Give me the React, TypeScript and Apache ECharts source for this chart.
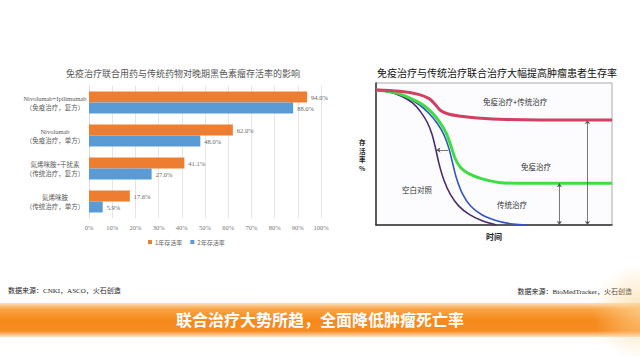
import React, { useEffect, useRef } from "react";
import * as echarts from "echarts";

// ---- Left chart data ----
const categories = [
  "Nivolumab+Ipilimumab\n（免疫治疗，复方）",
  "Nivolumab\n（免疫治疗，单方）",
  "氮烯咪胺+干扰素\n（传统治疗，复方）",
  "氮烯咪胺\n（传统治疗，单方）",
];
const oneYear = [94.0, 62.0, 41.1, 17.6];
const twoYear = [88.0, 48.0, 27.0, 5.9];
const seriesNames = ["1年存活率", "2年存活率"];

// ---- Right chart data (illustrative survival curves, x: time %, y: survival %) ----
const redCurve: number[][] = [
  [0, 95.1], [10, 94.2], [18, 92.0], [22.5, 89.0], [25.0, 85.0], [27.5, 80.5],
  [31.0, 78.0], [36.0, 76.6], [43.0, 75.4], [55.0, 74.3], [70, 73.9], [100, 73.9],
];
const greenCurve: number[][] = [
  [0, 95.1], [8, 93.2], [14.4, 89.4], [19.5, 85.0], [23.5, 79.5], [27.0, 72.5],
  [29.8, 64.5], [31.8, 55.5], [33.5, 47.0], [35.8, 40.5], [39.5, 36.0],
  [45.0, 32.5], [52.0, 30.0], [60.0, 29.4], [100, 29.4],
];
const blueCurve: number[][] = [
  [0, 95.1], [8, 93.0], [13.5, 89.5], [18.5, 84.5], [22.5, 78.5], [26.0, 71.5],
  [28.8, 63.5], [30.8, 54.5], [32.4, 44.0], [34.0, 33.5], [36.5, 22.5],
  [40.0, 13.5], [45.0, 7.0], [51.5, 2.8], [58.0, 0.7], [63.9, 0],
];
const purpleCurve: number[][] = [
  [0, 95.1], [6, 93.5], [11, 90.5], [15.5, 86.0], [19.0, 79.5], [21.8, 72.0],
  [23.8, 63.5], [25.3, 53.5], [26.8, 42.5], [28.8, 31.5], [31.5, 21.5],
  [35.0, 13.5], [39.5, 7.5], [45.0, 3.0], [51.1, 0],
];
const arrowRedX = 89.6;
const arrowGreenX = 77.7;
const arrowGapY = 52.8;

const F = "'Noto Sans CJK SC', 'Noto Sans', sans-serif";
const FS = "'Liberation Serif', 'Noto Sans CJK SC', serif";

export default function App() {
  const ref = useRef<HTMLDivElement>(null);
  useEffect(() => {
    if (!ref.current) return;
    const chart = echarts.init(ref.current, undefined, { renderer: "svg" });
    const arrowLine = {
      silent: true,
      symbol: ["arrow", "arrow"],
      symbolSize: 4,
      label: { show: false },
      lineStyle: { color: "#555", width: 0.8, type: "solid" as const },
      emphasis: { disabled: true },
    };
    const curve = (data: number[][], color: string, width: number, z: number, extra: any = {}) => ({
      type: "line",
      xAxisIndex: 1,
      yAxisIndex: 1,
      data,
      smooth: 0.35,
      symbol: "none",
      lineStyle: { color, width },
      z,
      ...extra,
    });
    chart.setOption({
      animation: false,
      backgroundColor: "#ffffff",
      title: [
        {
          text: "免疫治疗联合用药与传统药物对晚期黑色素瘤存活率的影响",
          left: 178,
          top: 64,
          textAlign: "center",
          textStyle: { fontFamily: F, fontSize: 9, fontWeight: "normal", color: "#555" },
        },
        {
          text: "免疫治疗与传统治疗联合治疗大幅提高肿瘤患者生存率",
          left: 492,
          top: 62,
          textAlign: "center",
          textStyle: { fontFamily: F, fontSize: 10, fontWeight: "normal", color: "#111" },
        },
      ],
      legend: {
        left: 143,
        top: 234,
        itemWidth: 4,
        itemHeight: 4,
        itemGap: 8,
        icon: "rect",
        data: seriesNames,
        textStyle: { fontFamily: F, fontSize: 6, color: "#666", padding: [0, 0, 0, -2] },
      },
      grid: [
        { left: 89, top: 86, width: 232, height: 132 },
        {
          left: 376, top: 83, width: 236, height: 142,
          show: true, borderColor: "#aaa", borderWidth: 1, backgroundColor: "#fcfcfe",
        },
      ],
      xAxis: [
        {
          type: "value",
          gridIndex: 0,
          min: 0,
          max: 100,
          interval: 10,
          axisLine: { show: false },
          axisTick: { show: false },
          axisLabel: { formatter: "{value}%", fontFamily: FS, fontSize: 6.5, color: "#777", margin: 6 },
          splitLine: { lineStyle: { color: "#e0e0e0", width: 0.8 } },
        },
        {
          type: "value",
          gridIndex: 1,
          min: 0,
          max: 100,
          axisLine: { show: true, lineStyle: { color: "#333", width: 1.5 } },
          axisTick: { show: false },
          axisLabel: { show: false },
          splitLine: { show: false },
          name: "时间",
          nameLocation: "middle",
          nameGap: 7,
          nameTextStyle: { fontFamily: F, fontSize: 8, fontWeight: "bold", color: "#222" },
        },
      ],
      yAxis: [
        {
          type: "category",
          gridIndex: 0,
          inverse: true,
          data: categories,
          axisLine: { show: true, lineStyle: { color: "#d9d9d9" } },
          axisTick: { show: false },
          axisLabel: {
            fontFamily: FS,
            fontSize: 6.5,
            lineHeight: 9,
            color: "#595959",
            margin: 34,
            align: "center",
          },
        },
        {
          type: "value",
          gridIndex: 1,
          min: 0,
          max: 100,
          axisLine: { show: true, lineStyle: { color: "#333", width: 1.5 } },
          axisTick: { show: false },
          axisLabel: { show: false },
          splitLine: { show: false },
        },
      ],
      series: [
        {
          name: seriesNames[0],
          type: "bar",
          xAxisIndex: 0,
          yAxisIndex: 0,
          data: oneYear,
          barWidth: 11,
          barGap: "0%",
          itemStyle: { color: "#ED7D31" },
          label: {
            show: true,
            position: "right",
            distance: 4,
            formatter: (p: any) => Number(p.value).toFixed(1) + "%",
            fontFamily: FS,
            fontSize: 6.5,
            color: "#666",
          },
        },
        {
          name: seriesNames[1],
          type: "bar",
          xAxisIndex: 0,
          yAxisIndex: 0,
          data: twoYear,
          barWidth: 11,
          barGap: "0%",
          itemStyle: { color: "#5B9BD5" },
          label: {
            show: true,
            position: "right",
            distance: 4,
            formatter: (p: any) => Number(p.value).toFixed(1) + "%",
            fontFamily: FS,
            fontSize: 6.5,
            color: "#666",
          },
        },
        curve(purpleCurve, "#4a2c6e", 1.6, 3),
        curve(blueCurve, "#2f55c8", 1.6, 3, {
          markLine: {
            ...arrowLine,
            symbol: ["arrow", "none"],
            data: [[{ coord: [25.6, arrowGapY] }, { coord: [30.6, arrowGapY] }]],
          },
        }),
        curve(greenCurve, "#3fdc44", 3, 4, {
          markLine: {
            ...arrowLine,
            data: [[{ coord: [arrowGreenX, 29.4] }, { coord: [arrowGreenX, 0] }]],
          },
        }),
        curve(redCurve, "#d23f62", 3, 5, {
          markLine: {
            ...arrowLine,
            data: [[{ coord: [arrowRedX, 73.9] }, { coord: [arrowRedX, 0] }]],
          },
        }),
      ],
      graphic: [
        {
          type: "text",
          left: 359,
          top: 138,
          style: {
            text: "存\n活\n率\n%",
            fontFamily: F,
            fontSize: 6.5,
            lineHeight: 8.5,
            fontWeight: "bold",
            fill: "#222",
            align: "center",
          },
        },
        { type: "text", left: 483, top: 98, style: { text: "免疫治疗+传统治疗", fontFamily: F, fontSize: 7.5, fill: "#333" } },
        { type: "text", left: 521, top: 163, style: { text: "免疫治疗", fontFamily: F, fontSize: 7.5, fill: "#333" } },
        { type: "text", left: 402, top: 186, style: { text: "空白对照", fontFamily: F, fontSize: 7.5, fill: "#333" } },
        { type: "text", left: 497, top: 201, style: { text: "传统治疗", fontFamily: F, fontSize: 7.5, fill: "#333" } },
        { type: "text", left: 8, top: 287, style: { text: "数据来源：CNKI，ASCO，火石创造", fontFamily: FS, fontSize: 7, fill: "#222" } },
        { type: "text", right: 8, top: 288, style: { text: "数据来源：BioMedTracker，火石创造", fontFamily: FS, fontSize: 7, fill: "#222" } },
        {
          type: "rect",
          shape: { x: 0, y: 303, width: 640, height: 34 },
          style: {
            fill: new echarts.graphic.LinearGradient(0, 0, 0, 1, [
              { offset: 0, color: "#fde0bd" },
              { offset: 0.18, color: "#f9a446" },
              { offset: 0.5, color: "#f6891a" },
              { offset: 0.82, color: "#f68b22" },
              { offset: 1, color: "#fde2c6" },
            ]),
          },
          z: 1,
        },
        {
          type: "circle",
          shape: { cx: 640, cy: 312, r: 48 },
          style: {
            fill: new echarts.graphic.RadialGradient(0.5, 0.5, 0.5, [
              { offset: 0, color: "rgba(253,214,150,0.7)" },
              { offset: 1, color: "rgba(253,214,150,0)" },
            ]),
          },
          z: 2,
        },
        {
          type: "text",
          left: "center",
          top: 311,
          style: {
            text: "联合治疗大势所趋，全面降低肿瘤死亡率",
            fontFamily: F,
            fontSize: 16,
            fontWeight: "bold",
            fill: "#ffffff",
          },
          z: 3,
        },
      ],
    });
    return () => chart.dispose();
  }, []);
  return (
    <div
      ref={ref}
      style={{ position: "fixed", left: 0, top: 0, width: 640, height: 356 }}
    />
  );
}
